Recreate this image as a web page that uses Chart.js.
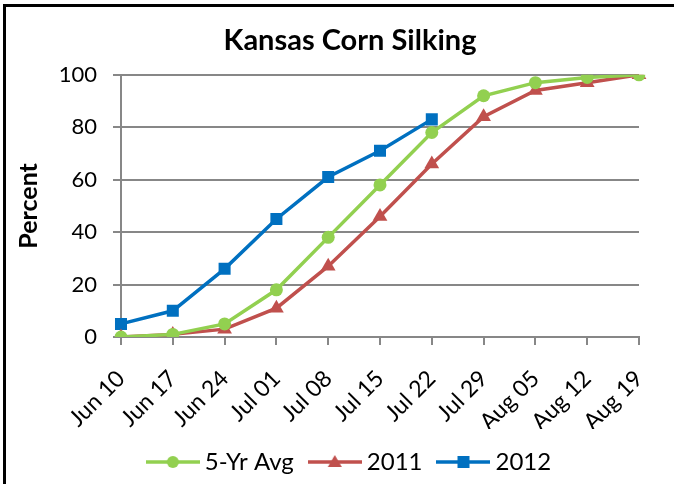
<!DOCTYPE html>
<html>
<head>
<meta charset="utf-8">
<script src="https://cdn.jsdelivr.net/npm/chart.js@4"></script>
<style>
  html, body { margin: 0; padding: 0; background: #fff; }
  #wrap { position: relative; width: 674px; height: 484px; overflow: hidden; }
  #frame { position: absolute; left: 3px; top: 4px; width: 700px; height: 500px; border: 3px solid #000; box-sizing: border-box; pointer-events: none; }
  canvas { position: absolute; left: 0; top: 0; }
</style>
</head>
<body>
<div id="wrap">
  <canvas id="c" width="674" height="484"></canvas>
  <div id="frame"></div>
</div>
<script>
const categories = ["Jun 10","Jun 17","Jun 24","Jul 01","Jul 08","Jul 15","Jul 22","Jul 29","Aug 05","Aug 12","Aug 19"];
const avg5yr = [0, 1, 5, 18, 38, 58, 78, 92, 97, 99, 100];
const y2011 = [0, 1, 3, 11, 27, 46, 66, 84, 94, 97, 100];
const y2012 = [5, 10, 26, 45, 61, 71, 83, null, null, null, null];
const seriesNames = ["5-Yr Avg", "2011", "2012"];
const chartTitle = "Kansas Corn Silking";
const yAxisTitle = "Percent";

const colors = ["#92D050", "#C0504D", "#0070C0"];
const styles = ["circle", "triangle", "rect"];
const radii = [6.5, 8.5, 8.5];

function legendIcon(color, style) {
  const cv = document.createElement('canvas');
  cv.width = 54; cv.height = 18;
  const g = cv.getContext('2d');
  g.strokeStyle = color; g.lineWidth = 3.5;
  g.beginPath(); g.moveTo(0, 9); g.lineTo(54, 9); g.stroke();
  g.fillStyle = color;
  g.beginPath();
  if (style === 'circle') { g.arc(27, 9, 6, 0, Math.PI * 2); }
  else if (style === 'triangle') { g.moveTo(27, 2); g.lineTo(34, 14); g.lineTo(20, 14); g.closePath(); }
  else { g.rect(21, 3, 12, 12); }
  g.fill();
  return cv;
}

const dataArrays = [avg5yr, y2011, y2012];
const datasets = dataArrays.map((d, i) => ({
  label: seriesNames[i],
  data: d,
  borderColor: colors[i],
  backgroundColor: colors[i],
  borderWidth: 3.5,
  pointStyle: styles[i],
  pointRadius: radii[i],
  pointBorderWidth: 0,
  pointBackgroundColor: colors[i],
  tension: 0,
  spanGaps: false
}));

const gridColor = "#878787";

// Shift the title and legend boxes so they are centred like the reference
const shiftBoxes = {
  id: 'shiftBoxes',
  afterLayout(chart) {
    const t = chart.titleBlock;
    if (t) { const d = 350 - (t.left + t.right) / 2; t.left += d; t.right += d; }
    const l = chart.legend;
    if (l) {
      const d = 352 - (l.left + l.right) / 2;
      l.left += d; l.right += d;
      if (l.legendHitBoxes) l.legendHitBoxes.forEach(h => { h.left += d; });
    }
  }
};

new Chart(document.getElementById('c'), {
  type: 'line',
  data: { labels: categories, datasets },
  plugins: [shiftBoxes],
  options: {
    responsive: false,
    animation: false,
    devicePixelRatio: 1,
    layout: { padding: { left: 14, right: 35, top: 0, bottom: 0 } },
    plugins: {
      title: {
        display: true, text: chartTitle, color: '#000',
        font: { family: 'Lato', size: 29, weight: 'bold' },
        padding: { top: 23, bottom: 17 }
      },
      legend: {
        position: 'bottom',
        labels: {
          color: '#000',
          font: { family: 'Lato', size: 24 },
          usePointStyle: true,
          pointStyleWidth: 40,
          padding: 21,
          generateLabels: (chart) => chart.data.datasets.map((ds, i) => ({
            text: ds.label,
            pointStyle: legendIcon(colors[i], styles[i]),
            fillStyle: colors[i], strokeStyle: colors[i], lineWidth: 0,
            fontColor: '#000',
            datasetIndex: i, hidden: false
          }))
        }
      },
      tooltip: { enabled: false }
    },
    scales: {
      x: {
        offset: false,
        grid: { display: true, drawOnChartArea: false, drawTicks: true, tickLength: 8, color: gridColor, lineWidth: 2 },
        border: { color: gridColor, width: 2 },
        ticks: {
          color: '#000', font: { family: 'Lato', size: 23 },
          maxRotation: 45, minRotation: 45, autoSkip: false, padding: 20
        },
        afterFit: (s) => { s.height = 92; s.paddingRight = 0; s.paddingLeft = 0; }
      },
      y: {
        min: 0, max: 100,
        ticks: { stepSize: 20, color: '#000', font: { family: 'Lato', size: 22 }, padding: 16 },
        grid: { color: gridColor, lineWidth: 2, tickLength: 8, drawTicks: true },
        border: { color: gridColor, width: 2 },
        title: { display: true, text: yAxisTitle, color: '#000', font: { family: 'Lato', size: 25, weight: 'bold' }, padding: { top: 0, bottom: 0 } },
        afterFit: (s) => { s.width = 107; }
      }
    }
  }
});
</script>
</body>
</html>
